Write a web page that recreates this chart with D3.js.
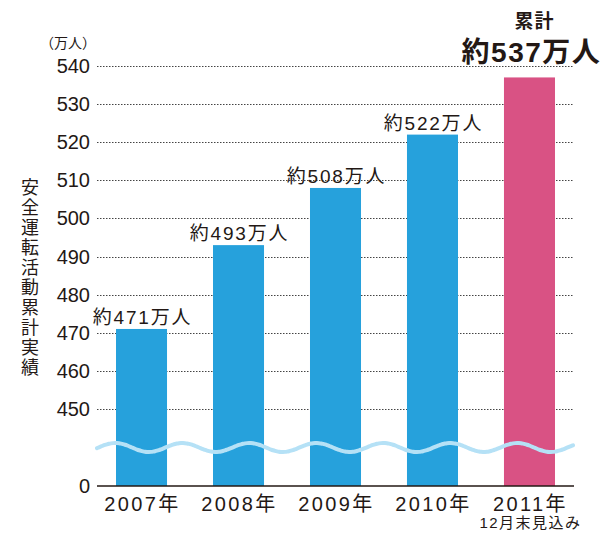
<!DOCTYPE html>
<html>
<head>
<meta charset="utf-8">
<script src="https://cdn.jsdelivr.net/npm/d3@7"></script>
<style>
  body { margin: 0; background: #fff; }
  text { font-family: "Liberation Sans", "Noto Sans CJK JP", sans-serif; fill: #231815; }
</style>
</head>
<body>
<div id="chart"></div>
<script>
// data
var years = ["2007年", "2008年", "2009年", "2010年", "2011年"];
var values = [471, 493, 508, 522, 537];
var valueLabels = ["約471万人", "約493万人", "約508万人", "約522万人", "約537万人"];
var yTicks = [0, 450, 460, 470, 480, 490, 500, 510, 520, 530, 540];
var gridTicks = [450, 460, 470, 480, 490, 500, 510, 520, 530, 540];

var width = 605, height = 533;

var svg = d3.select("#chart").append("svg")
    .attr("width", width)
    .attr("height", height);

// broken axis: 0 at the bottom, then 450..540
var yScale = d3.scaleLinear()
    .domain([0, 450, 540])
    .range([486, 409, 66]);

var xScale = d3.scaleBand()
    .domain(years)
    .range([97, 574])
    .paddingInner(0.474)
    .paddingOuter(0.196);

var blue = "#26a1dc", pink = "#d95284";

// gridlines
svg.append("g")
    .selectAll("line")
    .data(gridTicks)
    .join("line")
    .attr("x1", 97)
    .attr("x2", 574)
    .attr("y1", d => Math.round(yScale(d)) + 0.5)
    .attr("y2", d => Math.round(yScale(d)) + 0.5)
    .attr("stroke", "#444")
    .attr("stroke-width", 1)
    .attr("stroke-dasharray", "1.5,1.5");

// y tick labels
svg.append("g")
    .selectAll("text")
    .data(yTicks)
    .join("text")
    .attr("x", 90)
    .attr("y", d => yScale(d) + 7)
    .attr("text-anchor", "end")
    .attr("font-size", "20px")
    .text(d => d);

svg.append("text")
    .attr("x", 68)
    .attr("y", 48)
    .attr("text-anchor", "middle")
    .attr("font-size", "14px")
    .text("（万人）");

// vertical title
svg.append("text")
    .attr("x", 28)
    .attr("y", 178)
    .attr("writing-mode", "vertical-rl")
    .style("text-orientation", "upright")
    .attr("font-size", "18px")
    .attr("letter-spacing", "2px")
    .text("安全運転活動累計実績");

// bars
svg.append("g")
    .selectAll("rect")
    .data(values)
    .join("rect")
    .attr("x", (d, i) => xScale(years[i]))
    .attr("y", d => yScale(d))
    .attr("width", xScale.bandwidth())
    .attr("height", d => yScale(0) - yScale(d))
    .attr("fill", (d, i) => i === values.length - 1 ? pink : blue);

// value labels (not on the last bar)
svg.append("g")
    .selectAll("text")
    .data(values.slice(0, -1))
    .join("text")
    .attr("x", (d, i) => xScale(years[i]) + xScale.bandwidth() / 2 + 1)
    .attr("y", d => yScale(d) - 5)
    .attr("text-anchor", "middle")
    .attr("font-size", "19px")
    .attr("letter-spacing", "1.8px")
    .text((d, i) => valueLabels[i]);

// total callout
var lastX = xScale(years[4]) + xScale.bandwidth() / 2;
svg.append("text")
    .attr("x", lastX + 5)
    .attr("y", 28)
    .attr("text-anchor", "middle")
    .attr("font-size", "19px")
    .attr("font-weight", "bold")
    .attr("letter-spacing", "1px")
    .text("累計");
svg.append("text")
    .attr("x", lastX + 2)
    .attr("y", 62)
    .attr("text-anchor", "middle")
    .attr("font-size", "28px")
    .attr("font-weight", "bold")
    .attr("letter-spacing", "1.5px")
    .text(valueLabels[4]);

// wave marking the axis break
var wave = d3.range(97, 575, 2).map(x => [x, 447.5 - 4.5 * Math.sin((x - 98.5) / 67 * 2 * Math.PI)]);
svg.append("path")
    .datum(wave)
    .attr("fill", "none")
    .attr("stroke", "#b5e1f6")
    .attr("stroke-width", 4)
    .attr("stroke-linecap", "round")
    .attr("d", d3.line().curve(d3.curveBasis));

// baseline
svg.append("line")
    .attr("x1", 97)
    .attr("x2", 574)
    .attr("y1", 486)
    .attr("y2", 486)
    .attr("stroke", "#231815")
    .attr("stroke-width", 1.5);

// x labels
svg.append("g")
    .selectAll("text")
    .data(years)
    .join("text")
    .attr("x", d => xScale(d) + xScale.bandwidth() / 2 + 1)
    .attr("y", 511)
    .attr("text-anchor", "middle")
    .attr("font-size", "20px")
    .attr("letter-spacing", "2.4px")
    .text(d => d);

svg.append("text")
    .attr("x", lastX + 1)
    .attr("y", 528)
    .attr("text-anchor", "middle")
    .attr("font-size", "15px")
    .attr("letter-spacing", "1.5px")
    .text("12月末見込み");
</script>
</body>
</html>
